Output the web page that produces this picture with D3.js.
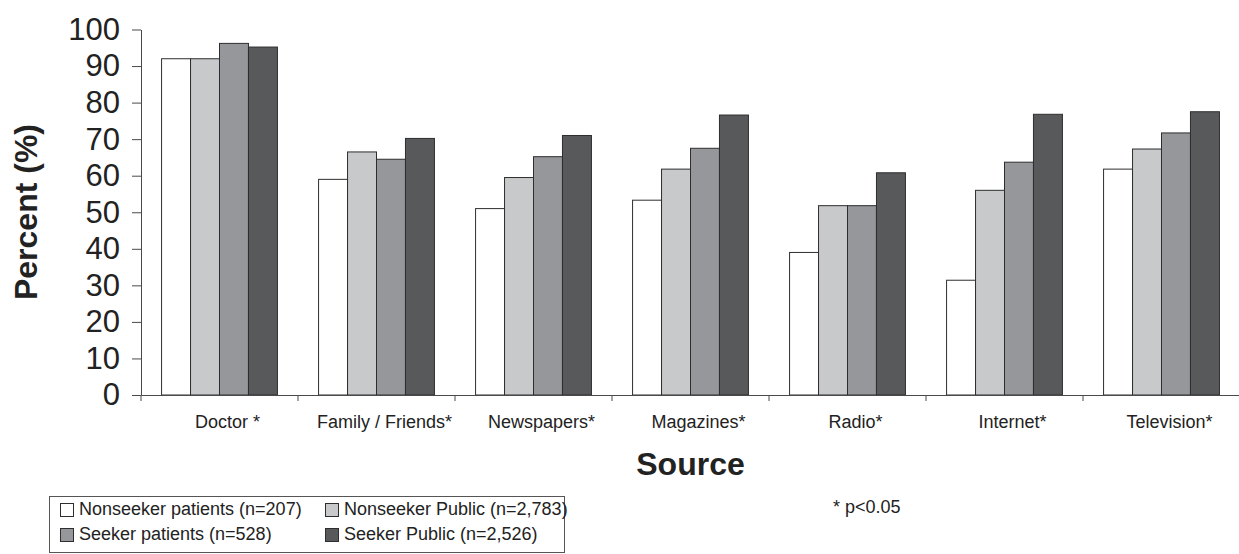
<!DOCTYPE html>
<html>
<head>
<meta charset="utf-8">
<script src="https://cdn.jsdelivr.net/npm/d3@7/dist/d3.min.js"></script>
<style>
  html, body { margin: 0; padding: 0; background: #fff; }
  svg { display: block; font-family: "Liberation Sans", Arial, Helvetica, sans-serif; }
</style>
</head>
<body>
<svg id="chart" width="1239" height="554"></svg>
<script>
// Information sources used, by respondent group (percent)
const categories = ["Doctor *", "Family / Friends*", "Newspapers*", "Magazines*", "Radio*", "Internet*", "Television*"];
const seriesNames = ["Nonseeker patients (n=207)", "Nonseeker Public (n=2,783)", "Seeker patients (n=528)", "Seeker Public (n=2,526)"];
const nonseekerPatients = [92, 59, 51, 53.3, 39, 31.4, 61.8];
const nonseekerPublic   = [92, 66.5, 59.5, 61.8, 51.8, 56, 67.3];
const seekerPatients    = [96.2, 64.5, 65.2, 67.5, 51.8, 63.7, 71.7];
const seekerPublic      = [95.2, 70.2, 71, 76.6, 60.8, 76.8, 77.5];
const yTicks = [0, 10, 20, 30, 40, 50, 60, 70, 80, 90, 100];
const colors = ["#ffffff", "#c8c9cb", "#96979b", "#58595b"];

const seriesValues = [nonseekerPatients, nonseekerPublic, seekerPatients, seekerPublic];
const rows = categories.map((c, i) => ({ cat: c, vals: seriesValues.map(s => s[i]) }));

const svg = d3.select("#chart");
const plot = { left: 141, right: 1240, top: 29.5, bottom: 395 };

const x0 = d3.scaleBand().domain(categories).range([plot.left, plot.right]).padding(0);
const x1 = d3.scaleBand().domain(d3.range(seriesNames.length))
  .range([0, x0.bandwidth()]).paddingInner(0).paddingOuter(0.71);
const y = d3.scaleLinear().domain([0, 100]).range([plot.bottom, plot.top]);

const axisColor = "#4a4a4a";

// Bars
const groups = svg.append("g").selectAll("g").data(rows).join("g")
  .attr("transform", d => `translate(${x0(d.cat)},0)`);
groups.selectAll("rect").data(d => d.vals.map((v, k) => ({ v, k }))).join("rect")
  .attr("x", d => x1(d.k))
  .attr("y", d => y(d.v))
  .attr("width", x1.bandwidth())
  .attr("height", d => y(0) - y(d.v))
  .attr("fill", d => colors[d.k])
  .attr("stroke", "#2e2e2e")
  .attr("stroke-width", 1);

// Y axis
const yAxis = svg.append("g").attr("transform", `translate(${plot.left},0)`)
  .call(d3.axisLeft(y).tickValues(yTicks).tickSize(9).tickPadding(12).tickSizeOuter(0));
yAxis.select(".domain").attr("stroke", axisColor);
yAxis.selectAll(".tick line").attr("stroke", axisColor);
yAxis.selectAll(".tick text").attr("font-size", 31).attr("fill", "#222")
  .attr("font-family", "Liberation Sans, Arial, sans-serif");

// X axis: labels centred under each group, ticks at group boundaries
const xAxis = svg.append("g").attr("transform", `translate(0,${plot.bottom})`)
  .call(d3.axisBottom(x0).tickSize(0).tickPadding(20).tickSizeOuter(0));
xAxis.select(".domain").attr("stroke", axisColor);
xAxis.selectAll(".tick text").attr("font-size", 18).attr("fill", "#222").attr("dx", 8)
  .attr("font-family", "Liberation Sans, Arial, sans-serif");
const bounds = categories.map(c => x0(c));
xAxis.selectAll("line.sep").data(bounds).join("line").attr("class", "sep")
  .attr("x1", d => d).attr("x2", d => d).attr("y1", 0).attr("y2", 6)
  .attr("stroke", axisColor);

// Axis titles
svg.append("text")
  .attr("transform", "translate(37,212) rotate(-90)")
  .attr("text-anchor", "middle").attr("font-size", 32).attr("font-weight", "bold")
  .attr("fill", "#222").text("Percent (%)");
svg.append("text")
  .attr("x", (plot.left + plot.right) / 2).attr("y", 475)
  .attr("text-anchor", "middle").attr("font-size", 32).attr("font-weight", "bold")
  .attr("fill", "#222").text("Source");

// Legend
const legend = svg.append("g");
legend.append("rect").attr("x", 49.5).attr("y", 496.5).attr("width", 515).attr("height", 56)
  .attr("fill", "none").attr("stroke", "#555").attr("stroke-width", 1);
const legendPos = [[60, 515], [325, 515], [60, 540], [325, 540]];
seriesNames.forEach((name, k) => {
  const [lx, ly] = legendPos[k];
  legend.append("rect").attr("x", lx + 0.5).attr("y", ly - 11.5).attr("width", 13).attr("height", 13)
    .attr("fill", colors[k]).attr("stroke", "#2e2e2e").attr("stroke-width", 1);
  legend.append("text").attr("x", lx + 19).attr("y", ly)
    .attr("font-size", 18).attr("fill", "#222").text(name);
});

// Significance note
svg.append("text").attr("x", 833).attr("y", 513).attr("font-size", 18).attr("fill", "#222")
  .text("* p<0.05");
</script>
</body>
</html>
